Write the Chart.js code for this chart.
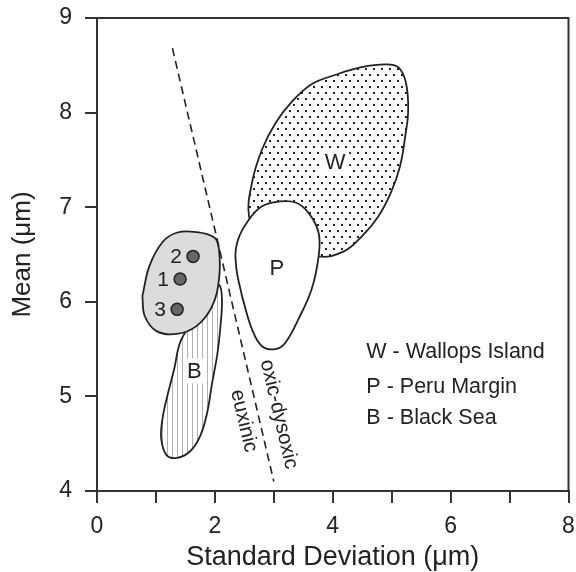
<!DOCTYPE html>
<html>
<head>
<meta charset="utf-8">
<script src="https://cdn.jsdelivr.net/npm/chart.js@4.4.1/dist/chart.umd.min.js"></script>
<style>
  html, body { margin: 0; padding: 0; background: #fff; }
  canvas { display: block; }
</style>
</head>
<body>
<canvas id="chart" width="576" height="572"></canvas>
<script>
// outlines: x = standard deviation (µm), y = mean (µm)
const wallopsSd   = [3.25, 2.75, 2.58, 2.63, 2.80, 3.03, 3.30, 3.64, 4.05, 4.49, 4.89, 5.11, 5.24, 5.28, 5.23, 5.14, 4.99, 4.77, 4.49, 4.18, 3.76];
const wallopsMean = [6.61, 6.79, 6.90, 7.26, 7.61, 7.89, 8.11, 8.30, 8.40, 8.48, 8.51, 8.48, 8.32, 8.03, 7.75, 7.43, 7.16, 6.90, 6.69, 6.53, 6.48];

const peruSd   = [2.46, 2.36, 2.38, 2.58, 2.80, 3.08, 3.37, 3.59, 3.76, 3.76, 3.64, 3.42, 3.20, 3.03, 2.80, 2.63];
const peruMean = [6.06, 6.38, 6.63, 6.87, 7.01, 7.06, 7.05, 6.94, 6.73, 6.48, 6.13, 5.82, 5.57, 5.50, 5.53, 5.71];

const blackSeaSd   = [1.73, 1.94, 2.07, 2.12, 2.09, 2.04, 1.95, 1.87, 1.75, 1.58, 1.36, 1.18, 1.09, 1.11, 1.18, 1.31, 1.43];
const blackSeaMean = [5.87, 6.11, 6.18, 6.03, 5.71, 5.44, 5.13, 4.83, 4.58, 4.42, 4.35, 4.38, 4.55, 4.76, 4.97, 5.29, 5.60];

// grey field around samples 1-3
const sampleFieldSd   = [0.77, 0.89, 1.11, 1.35, 1.65, 1.99, 2.07, 2.07, 1.95, 1.68, 1.35, 1.01, 0.81];
const sampleFieldMean = [6.06, 6.38, 6.63, 6.73, 6.74, 6.68, 6.55, 6.24, 5.95, 5.74, 5.66, 5.69, 5.85];

const sampleNames = ['2', '1', '3'];
const sampleSd    = [1.63, 1.41, 1.36];
const sampleMean  = [6.48, 6.24, 5.92];

// oxic-dysoxic / euxinic boundary
const boundarySd   = [1.28, 3.00];
const boundaryMean = [8.68, 4.10];

const regionNames = ['W', 'P', 'B'];
const legendLines = ['W - Wallops Island', 'P - Peru Margin', 'B - Black Sea'];

const xTicks = [0, 2, 4, 6, 8];
const yTicks = [4, 5, 6, 7, 8, 9];

const FONT = "'Liberation Sans', Arial, sans-serif";

function closed(xs, ys) {
    const pts = xs.map((x, i) => ({ x: x, y: ys[i] }));
    pts.push(pts[0]);
    return pts;
}

function dotPattern() {
    const c = document.createElement('canvas');
    c.width = 8; c.height = 12;
    const g = c.getContext('2d');
    g.fillStyle = '#fff';
    g.fillRect(0, 0, 8, 12);
    g.fillStyle = '#222';
    g.fillRect(1, 2, 2, 2);
    g.fillRect(5, 8, 2, 2);
    return g.createPattern(c, 'repeat');
}

function hatchPattern() {
    const c = document.createElement('canvas');
    c.width = 5; c.height = 5;
    const g = c.getContext('2d');
    g.fillStyle = '#fff';
    g.fillRect(0, 0, 5, 5);
    g.fillStyle = '#b0b0b0';
    g.fillRect(2, 0, 1, 5);
    return g.createPattern(c, 'repeat');
}

function outline(label, pts, fill, order) {
    return {
        label: label,
        data: pts,
        showLine: true,
        tension: 0.4,
        borderColor: '#222',
        borderWidth: 1.8,
        backgroundColor: fill,
        fill: 'shape',
        pointRadius: 0,
        order: order
    };
}

const overlay = {
    id: 'overlay',
    afterDatasetsDraw(chart) {
        const { ctx, chartArea: a, scales: { x, y } } = chart;
        ctx.save();

        // box: top and right sides
        ctx.strokeStyle = '#333';
        ctx.lineWidth = 2;
        ctx.beginPath();
        ctx.moveTo(a.left, a.top);
        ctx.lineTo(a.right, a.top);
        ctx.lineTo(a.right, a.bottom);
        ctx.stroke();

        ctx.fillStyle = '#222';
        ctx.textAlign = 'center';
        ctx.textBaseline = 'middle';

        // region letters (W and B sit on a white patch)
        const regionPos = [[4.04, 7.48, 28, 25], [3.05, 6.36, 0, 0], [1.65, 5.27, 18, 25]];
        ctx.font = '22px ' + FONT;
        regionNames.forEach((t, i) => {
            const px = x.getPixelForValue(regionPos[i][0]);
            const py = y.getPixelForValue(regionPos[i][1]);
            if (regionPos[i][2]) {
                ctx.fillStyle = '#fff';
                ctx.fillRect(px - regionPos[i][2] / 2, py - regionPos[i][3] / 2, regionPos[i][2], regionPos[i][3]);
            }
            ctx.fillStyle = '#222';
            ctx.fillText(t, px, py + 1);
        });

        // sample numbers to the left of the dots
        ctx.font = '21px ' + FONT;
        sampleNames.forEach((t, i) => {
            ctx.fillText(t, x.getPixelForValue(sampleSd[i]) - 17, y.getPixelForValue(sampleMean[i]) + 1);
        });

        // legend text
        ctx.textAlign = 'left';
        ctx.font = '21.5px ' + FONT;
        const legendMean = [5.48, 5.11, 4.78];
        legendLines.forEach((t, i) => {
            ctx.fillText(t, x.getPixelForValue(4.57), y.getPixelForValue(legendMean[i]) + 1);
        });

        // rotated labels along the boundary line
        const x0 = x.getPixelForValue(boundarySd[0]), y0 = y.getPixelForValue(boundaryMean[0]);
        const x1 = x.getPixelForValue(boundarySd[1]), y1 = y.getPixelForValue(boundaryMean[1]);
        const ang = Math.atan2(y1 - y0, x1 - x0);
        ctx.textAlign = 'center';
        ctx.font = '20.5px ' + FONT;
        [['oxic-dysoxic', 3.085, 4.81], ['euxinic', 2.49, 4.74]].forEach(([t, sx, sy]) => {
            ctx.save();
            ctx.translate(x.getPixelForValue(sx), y.getPixelForValue(sy));
            ctx.rotate(ang);
            ctx.fillText(t, 0, 0);
            ctx.restore();
        });

        ctx.restore();
    }
};

const ctx = document.getElementById('chart').getContext('2d');

new Chart(ctx, {
    type: 'scatter',
    data: {
        datasets: [
            {
                label: 'samples',
                data: sampleSd.map((v, i) => ({ x: v, y: sampleMean[i] })),
                pointRadius: 6,
                pointBackgroundColor: '#666',
                pointBorderColor: '#222',
                pointBorderWidth: 1.5,
                order: 0
            },
            {
                label: 'boundary',
                data: boundarySd.map((v, i) => ({ x: v, y: boundaryMean[i] })),
                showLine: true,
                borderColor: '#222',
                borderWidth: 1.6,
                borderDash: [8, 5],
                pointRadius: 0,
                order: 1
            },
            outline('field', closed(sampleFieldSd, sampleFieldMean), '#dcdcdc', 2),
            outline('Black Sea', closed(blackSeaSd, blackSeaMean), hatchPattern(), 3),
            outline('Peru Margin', closed(peruSd, peruMean), '#fff', 4),
            outline('Wallops Island', closed(wallopsSd, wallopsMean), dotPattern(), 5)
        ]
    },
    options: {
        responsive: false,
        animation: false,
        events: [],
        layout: { padding: { top: 18, right: 5, left: 0, bottom: 0 } },
        plugins: {
            legend: { display: false },
            tooltip: { enabled: false }
        },
        scales: {
            x: {
                type: 'linear',
                min: 0,
                max: 8,
                afterBuildTicks: s => { s.ticks = [0, 1, 2, 3, 4, 5, 6, 7, 8].map(v => ({ value: v })); },
                ticks: {
                    padding: 10,
                    color: '#222',
                    maxRotation: 0,
                    autoSkip: false,
                    font: { family: FONT, size: 23 },
                    callback: v => xTicks.includes(v) ? v : ''
                },
                grid: { drawOnChartArea: false, drawTicks: true, tickLength: 12, color: '#333', lineWidth: 2 },
                border: { display: true, color: '#333', width: 2 },
                title: {
                    display: true,
                    text: 'Standard Deviation (μm)',
                    color: '#222',
                    font: { family: FONT, size: 27, lineHeight: 1.05 },
                    padding: { top: 0, bottom: 0 }
                },
                afterFit: s => { s.height = 81; s.paddingLeft = 0; s.paddingRight = 0; }
            },
            y: {
                type: 'linear',
                min: 4,
                max: 9,
                afterBuildTicks: s => { s.ticks = yTicks.map(v => ({ value: v })); },
                ticks: {
                    padding: 13,
                    color: '#222',
                    font: { family: FONT, size: 23 }
                },
                grid: { drawOnChartArea: false, drawTicks: true, tickLength: 12, color: '#333', lineWidth: 2 },
                border: { display: true, color: '#333', width: 2 },
                title: {
                    display: true,
                    text: 'Mean (μm)',
                    color: '#222',
                    font: { family: FONT, size: 26 },
                    padding: { top: 7, bottom: 0 }
                },
                afterFit: s => { s.width = 97; s.paddingTop = 0; s.paddingBottom = 0; }
            }
        }
    },
    plugins: [overlay]
});
</script>
</body>
</html>
